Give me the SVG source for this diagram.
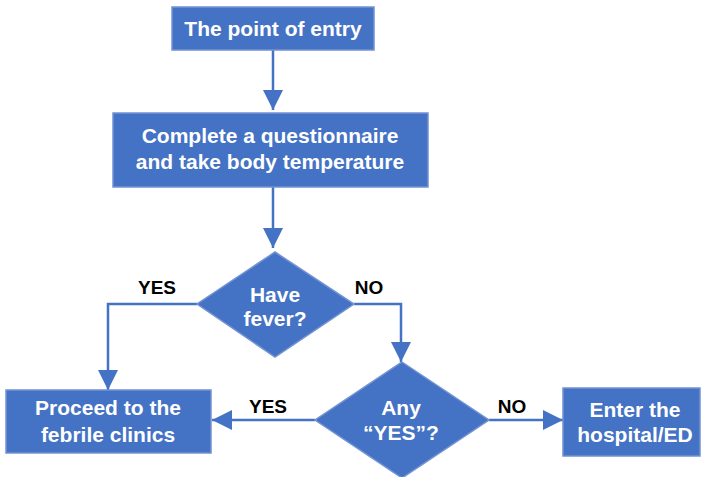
<svg xmlns="http://www.w3.org/2000/svg" width="702" height="477" viewBox="0 0 702 477">
<defs>
<style>
.n{fill:#4472C4;stroke:#7393d3;stroke-width:1.5}
.t{fill:#fff;font-family:"Liberation Sans",Arial,sans-serif;font-weight:bold;font-size:21px;text-anchor:middle}
.l{fill:#000;font-family:"Liberation Sans",Arial,sans-serif;font-weight:bold;font-size:19px;text-anchor:middle}
.c{fill:none;stroke:#4472C4;stroke-width:2.5}
</style>
<marker id="ah" viewBox="0 0 20 20" refX="20" refY="10" markerWidth="20" markerHeight="20" markerUnits="userSpaceOnUse" orient="auto">
<path d="M0,0 L20,10 L0,20 Z" fill="#4472C4"/>
</marker>
</defs>
<rect width="702" height="477" fill="#fff"/>
<g id="connectors">
<path class="c" d="M273,50 V110" marker-end="url(#ah)"/>
<path class="c" d="M273,187 V248" marker-end="url(#ah)"/>
<path class="c" d="M197,304 H108 V390" marker-end="url(#ah)"/>
<path class="c" d="M354,304 H401 V362" marker-end="url(#ah)"/>
<path class="c" d="M315,420 H212" marker-end="url(#ah)"/>
<path class="c" d="M489,420 H563" marker-end="url(#ah)"/>
<text class="l" x="157" y="294">YES</text>
<text class="l" x="369" y="294">NO</text>
<text class="l" x="268" y="413">YES</text>
<text class="l" x="512" y="413">NO</text>
</g>
<g id="entry">
<rect class="n" x="172" y="7" width="202" height="43"/>
<text class="t" x="273" y="36">The point of entry</text>
</g>
<g id="questionnaire">
<rect class="n" x="113" y="113" width="315" height="74"/>
<text class="t" x="270" y="143">Complete a questionnaire</text>
<text class="t" x="270" y="169">and take body temperature</text>
</g>
<g id="fever">
<polygon class="n" points="275,252 354,304 275,357 197,304"/>
<text class="t" x="275" y="302">Have</text>
<text class="t" x="275" y="326">fever?</text>
</g>
<g id="anyyes">
<polygon class="n" points="402,362 489,420 402,478 315,420"/>
<text class="t" x="401" y="415">Any</text>
<text class="t" x="401" y="440">“YES”?</text>
</g>
<g id="febrile">
<rect class="n" x="6" y="390" width="205" height="63"/>
<text class="t" x="108" y="415">Proceed to the</text>
<text class="t" x="108" y="442">febrile clinics</text>
</g>
<g id="hospital">
<rect class="n" x="563" y="388" width="137" height="68"/>
<text class="t" x="635" y="417">Enter the</text>
<text class="t" x="635" y="442">hospital/ED</text>
</g>
</svg>
